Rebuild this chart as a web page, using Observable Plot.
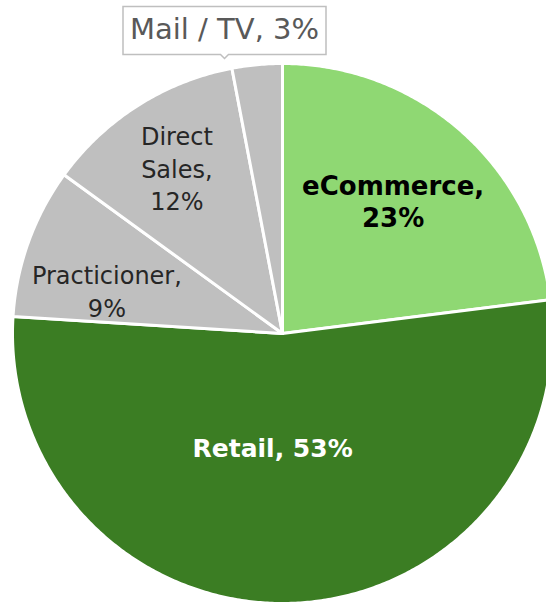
<!DOCTYPE html>
<html>
<head>
<meta charset="utf-8">
<script src="https://cdn.jsdelivr.net/npm/d3@7"></script>
<script src="https://cdn.jsdelivr.net/npm/@observablehq/plot@0.6"></script>
<style>
  html, body { margin: 0; padding: 0; background: #fff; }
  g[aria-label="tip"] text { fill: #595959; }
  g[aria-label="tip"], g[aria-label="tip"] * { filter: none !important; }
</style>
</head>
<body>
<div id="chart"></div>
<script>
// ---- data ----
const categories = ["eCommerce", "Retail", "Practicioner", "Direct Sales", "Mail / TV"];
const shares = [23, 53, 9, 12, 3];
const labels = ["eCommerce,\n23%", "Retail, 53%", "Practicioner,\n9%", "Direct\nSales,\n12%", "Mail / TV, 3%"];

// ---- styling / layout config ----
const colors = ["#8fd873", "#3b7d23", "#bfbfbf", "#bfbfbf", "#bfbfbf"];
const labelRadius = [0.64, 0.42, 0.67, 0.73, 1.04];
const labelShift = [-1.6, 6.8, -5.9, 0, -6.5]; // degrees

const total = d3.sum(shares);
const rad = (deg) => deg * Math.PI / 180;

// build slice polygons from shares
const polys = [];
const labelPts = [];
let acc = 0;
categories.forEach((cat, i) => {
  const a0 = acc / total * 360;
  acc += shares[i];
  const a1 = acc / total * 360;
  polys.push({cat, x: 0, y: 0});
  const n = Math.max(2, Math.ceil((a1 - a0) / 0.5));
  for (let k = 0; k <= n; k++) {
    const a = rad(a0 + (a1 - a0) * k / n);
    polys.push({cat, x: Math.sin(a), y: Math.cos(a)});
  }
  const m = rad((a0 + a1) / 2 + labelShift[i]);
  labelPts.push({cat, label: labels[i], x: labelRadius[i] * Math.sin(m), y: labelRadius[i] * Math.cos(m)});
});

const chart = Plot.plot({
  width: 546,
  height: 603,
  margin: 0,
  style: {fontFamily: "'DejaVu Sans', sans-serif", background: "#fff"},
  x: {domain: [-1, 1], range: [12, 552], axis: null},
  y: {domain: [-1, 1], range: [603, 63], axis: null},
  color: {domain: categories, range: colors},
  marks: [
    Plot.line(polys, {x: "x", y: "y", z: "cat", fill: "cat", stroke: "white", strokeWidth: 3, curve: "linear-closed", strokeLinejoin: "round"}),
    Plot.text(labelPts.filter(d => d.cat === "eCommerce"), {x: "x", y: "y", text: "label", fill: "#000", fontWeight: "bold", fontSize: 26, lineHeight: 1.25}),
    Plot.text(labelPts.filter(d => d.cat === "Retail"), {x: "x", y: "y", text: "label", fill: "#fff", fontWeight: "bold", fontSize: 25, lineHeight: 1.3}),
    Plot.text(labelPts.filter(d => d.cat === "Practicioner" || d.cat === "Direct Sales"), {x: "x", y: "y", text: "label", fill: "#262626", fontSize: 24, lineHeight: 1.36}),
    Plot.tip(labelPts.filter(d => d.cat === "Mail / TV"), {x: "x", y: "y", title: "label", anchor: "bottom", fill: "white", stroke: "#bfbfbf", strokeWidth: 1.5, fontSize: 29, pointerSize: 8, textPadding: 7, fontFamily: "'DejaVu Sans', sans-serif"})
  ]
});
document.getElementById("chart").appendChild(chart);
</script>
</body>
</html>
